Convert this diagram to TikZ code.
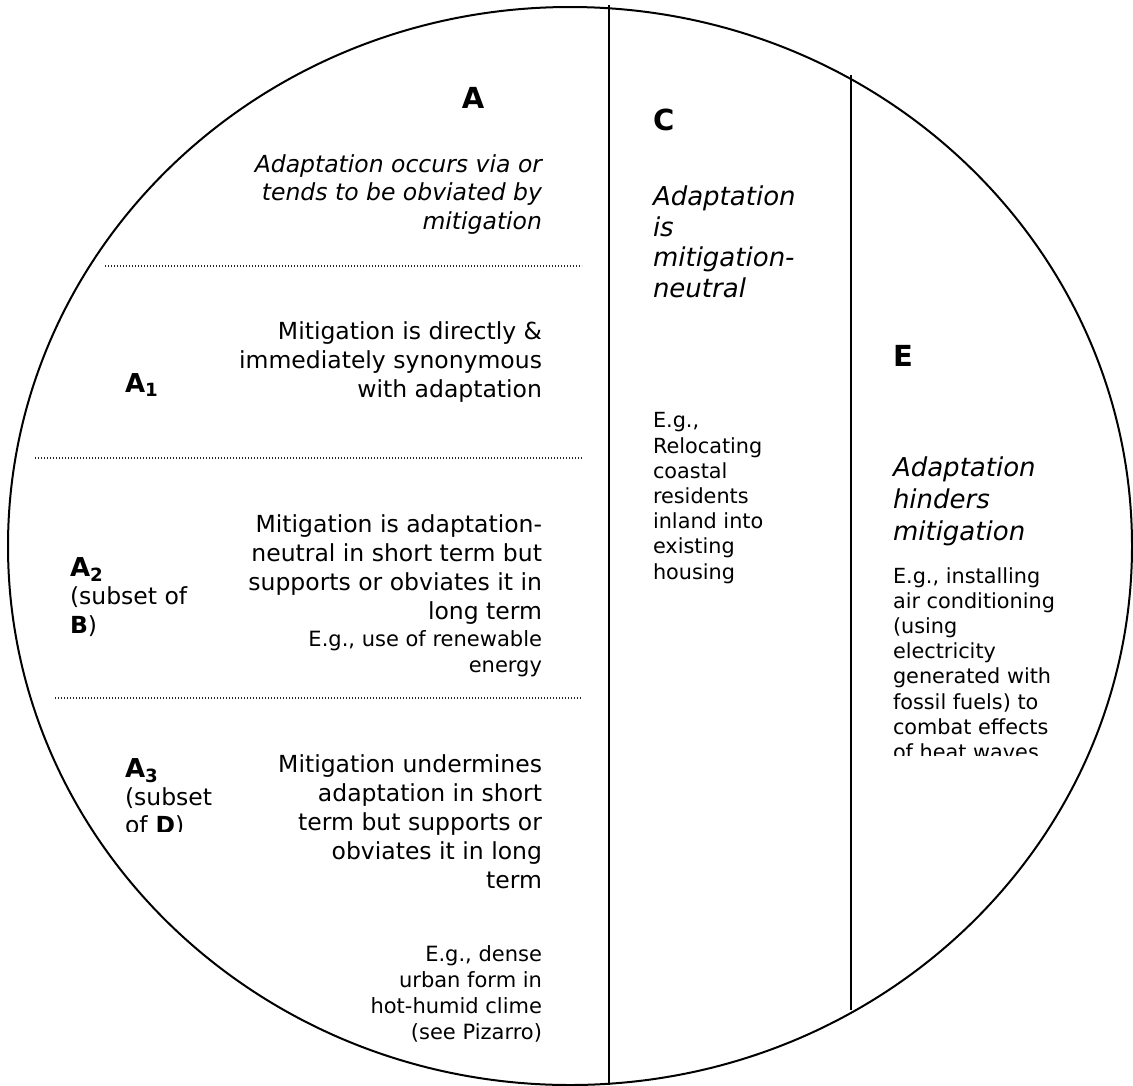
\documentclass[tikz,border=0pt]{standalone}
\usepackage{fontspec}
\setmainfont{DejaVu Sans}
\begin{document}
\begin{tikzpicture}[x=1pt,y=-1pt,
  txt/.style={inner sep=0pt, outer sep=0pt, text=black},
  headlbl/.style={txt, font=\fontsize{29}{32}\selectfont\bfseries},
  body/.style={txt, font=\fontsize{23.5}{29}\selectfont},
  bodyit/.style={txt, font=\fontsize{23.5}{28.5}\selectfont\itshape},
  colit/.style={txt, font=\fontsize{26}{30.5}\selectfont\itshape},
  colitwide/.style={txt, font=\fontsize{26}{32}\selectfont\itshape},
  small/.style={txt, font=\fontsize{21}{26}\selectfont},
  colsmall/.style={txt, font=\fontsize{20.8}{25.2}\selectfont},
  sublbl/.style={txt, font=\fontsize{23.5}{28.2}\selectfont},
  dotline/.style={line width=1.1pt, dash pattern=on 1.1pt off 1.9pt, draw=black!85},
  divider/.style={line width=1.5pt},
  rim/.style={line width=2pt}
]
\useasboundingbox (0,0) rectangle (1133,1085);
\newcommand{\biglbl}{\fontsize{26}{28.2}\selectfont\bfseries}

% outer circle and dividers
\draw[rim] (570,546) ellipse [x radius=562, y radius=539];
\draw[divider] (609,5) -- (609,1085);
\draw[divider] (851,75) -- (851,1010);

% dotted separators in A
\draw[dotline] (105,266) -- (582,266);
\draw[dotline] (35,458) -- (582,458);
\draw[dotline] (55,698) -- (582,698);

% section A (anchor = baseline of the last line)
\node[headlbl, anchor=base] (A) at (473,108) {A};
\node[bodyit, align=right, anchor=base east] (Adesc) at (542,229)
  {Adaptation occurs via or\\tends to be obviated by\\mitigation};

% A1
\node[txt, anchor=base west] (A1) at (125,392) {\biglbl A\textsubscript{1}};
\node[body, align=right, anchor=base east] (A1t) at (542,397)
  {Mitigation is directly \&\\immediately synonymous\\with adaptation};

% A2
\node[sublbl, align=left, anchor=base west] (A2) at (70,633)
  {{\biglbl A\textsubscript{2}}\\(subset of\\\textbf{B})};
\node[body, align=right, anchor=base east] (A2t) at (542,619)
  {Mitigation is adaptation-\\neutral in short term but\\supports or obviates it in\\long term};
\node[small, align=right, anchor=base east] (A2e) at (542,672)
  {E.g., use of renewable\\energy};

% A3
\begin{scope}
\clip (0,0) rectangle (600,831);
\node[sublbl, align=left, anchor=base west] (A3) at (125,833.5)
  {{\biglbl A\textsubscript{3}}\\(subset\\of \textbf{D})};
\end{scope}
\node[body, align=right, anchor=base east] (A3t) at (542,888)
  {Mitigation undermines\\adaptation in short\\term but supports or\\obviates it in long\\term};
\node[small, align=right, anchor=base east] (A3e) at (542,1039)
  {E.g., dense\\urban form in\\hot-humid clime\\(see Pizarro)};

% section C
\node[headlbl, anchor=base west] (C) at (653,130) {C};
\node[colit, align=left, anchor=base west] (Cdesc) at (653,297)
  {Adaptation\\is\\mitigation-\\neutral};
\node[colsmall, align=left, anchor=base west] (Ce) at (653,579)
  {E.g.,\\Relocating\\coastal\\residents\\inland into\\existing\\housing};

% section E
\node[headlbl, anchor=base west] (E) at (893,366) {E};
\node[colitwide, align=left, anchor=base west] (Edesc) at (893,540)
  {Adaptation\\hinders\\mitigation};
\begin{scope}
\clip (860,0) rectangle (1133,755);
\node[colsmall, align=left, anchor=base west] (Ee) at (893,759.5)
  {E.g., installing\\air conditioning\\(using\\electricity\\generated with\\fossil fuels) to\\combat effects\\of heat waves};
\end{scope}
\end{tikzpicture}
\end{document}
